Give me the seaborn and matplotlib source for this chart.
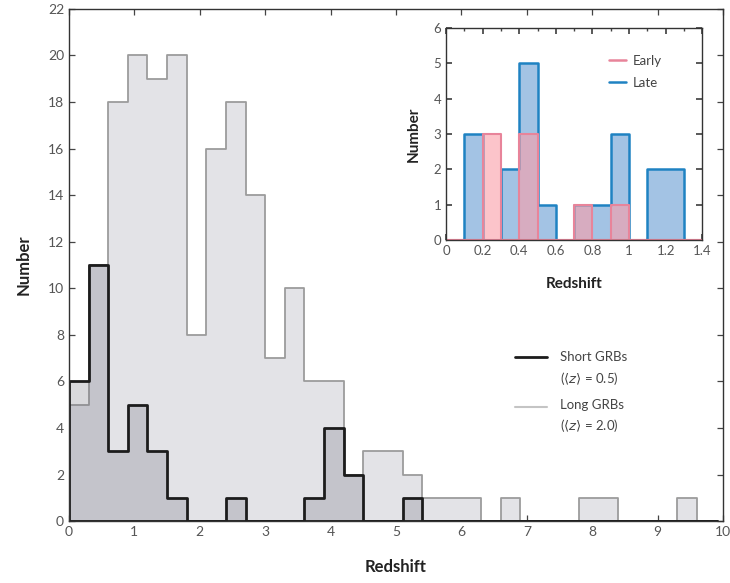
import numpy as np
import pandas as pd
import matplotlib
matplotlib.use("Agg")
import matplotlib.pyplot as plt
from matplotlib.lines import Line2D
import seaborn as sns

# ---- main panel: GRB redshift histogram, bins of width 0.3 ----
main_edges = [round(i * 0.3, 1) for i in range(34)]
long_counts = [5, 11, 18, 20, 19, 20, 8, 16, 18, 14, 7, 10, 6, 6, 2, 3, 3,
               2, 1, 1, 1, 0, 1, 0, 0, 0, 1, 1, 0, 0, 0, 1, 0]
short_counts = [6, 11, 3, 5, 3, 1, 0, 0, 1, 0, 0, 0, 1, 4, 2, 0, 0,
                1, 0, 0, 0, 0, 0, 0, 0, 0, 0, 0, 0, 0, 0, 0, 0]
main_xticks = list(range(0, 11))
main_yticks = list(range(0, 23, 2))
main_legend = ["Short GRBs", r"($\langle z\rangle$ = 0.5)",
               "Long GRBs", r"($\langle z\rangle$ = 2.0)"]

# ---- inset: short GRBs split by host type, bins of width 0.1 ----
inset_edges = [round(i * 0.1, 1) for i in range(15)]
late_counts = [0, 3, 0, 2, 5, 1, 0, 1, 1, 3, 0, 2, 2, 0]
early_counts = [0, 0, 3, 0, 3, 0, 0, 1, 0, 1, 0, 0, 0, 0]
inset_xticks = [0, 0.2, 0.4, 0.6, 0.8, 1.0, 1.2, 1.4]
inset_xticklabels = ["0", "0.2", "0.4", "0.6", "0.8", "1", "1.2", "1.4"]
inset_yticks = list(range(0, 7))

sns.set_theme(style="ticks")
plt.rcParams["font.family"] = ["Lato", "DejaVu Sans"]
plt.rcParams["mathtext.fontset"] = "dejavusans"

main_df = pd.DataFrame({
    "z": [e + 0.15 for e in main_edges[:-1]],
    "long": long_counts,
    "short": short_counts,
})
inset_df = pd.DataFrame({
    "z": [e + 0.05 for e in inset_edges[:-1]],
    "late": late_counts,
    "early": early_counts,
})

fig = plt.figure(figsize=(7.3, 5.83), dpi=100)
ax = fig.add_axes([0.0945, 0.106, 0.896, 0.879])

sns.histplot(data=main_df, x="z", weights="long", bins=main_edges,
             element="step", fill=True, facecolor="#e3e3e7",
             edgecolor="#9c9c9c", linewidth=1.3, ax=ax)
sns.histplot(data=main_df, x="z", weights="short", bins=main_edges,
             element="step", fill=True, facecolor=(0.45, 0.45, 0.5, 0.27),
             edgecolor="#1c1c1c", linewidth=2.0, ax=ax)

ax.set_xlim(0, 10)
ax.set_ylim(0, 22)
ax.set_xticks(main_xticks)
ax.set_yticks(main_yticks)
ax.tick_params(direction="in", top=True, right=True, length=4, width=0.9,
               labelsize=10, labelcolor="#555555", color="#444444")
for s in ax.spines.values():
    s.set_color("#333333")
    s.set_linewidth(1.0)
ax.set_xlabel("Redshift", fontsize=12, fontweight="bold", color="#222222", labelpad=15)
ax.set_ylabel("Number", fontsize=12, fontweight="bold", color="#222222", labelpad=12)

# legend for the main panel
ax.add_line(Line2D([0.682, 0.731], [0.320, 0.320], transform=ax.transAxes,
                   color="#1c1c1c", linewidth=2.0))
ax.add_line(Line2D([0.682, 0.731], [0.223, 0.223], transform=ax.transAxes,
                   color="#c4c4c4", linewidth=1.5))
for txt, yy in zip(main_legend, [0.320, 0.279, 0.227, 0.186]):
    ax.text(0.751, yy, txt, transform=ax.transAxes, fontsize=9.5,
            color="#444444", va="center", ha="left")

# ---- inset ----
axin = fig.add_axes([0.611, 0.588, 0.351, 0.364])
axin.set_facecolor("white")
sns.histplot(data=inset_df, x="z", weights="late", bins=inset_edges,
             element="step", fill=True, facecolor="#a3c3e4",
             edgecolor="#1f82c2", linewidth=1.8, ax=axin)
sns.histplot(data=inset_df, x="z", weights="early", bins=inset_edges,
             element="step", fill=True, facecolor=(0.98, 0.62, 0.66, 0.6),
             edgecolor="#e8849a", linewidth=1.5, ax=axin)
axin.set_xlim(0, 1.4)
axin.set_ylim(0, 6)
axin.set_xticks(inset_xticks)
axin.set_xticklabels(inset_xticklabels)
axin.set_yticks(inset_yticks)
axin.set_xticks([round(i * 0.1, 1) for i in range(1, 14, 2)], minor=True)
axin.tick_params(which="both", direction="in", top=True, right=True,
                 labelsize=9.5, labelcolor="#555555", color="#444444")
axin.tick_params(which="major", length=4)
axin.tick_params(which="minor", length=2.5)
for s in axin.spines.values():
    s.set_color("#333333")
    s.set_linewidth(1.0)
axin.set_xlabel("Redshift", fontsize=11, fontweight="bold", color="#222222", labelpad=14)
axin.set_ylabel("Number", fontsize=11, fontweight="bold", color="#222222", labelpad=9)

handles = [Line2D([], [], color="#e8849a", linewidth=1.8),
           Line2D([], [], color="#1f82c2", linewidth=1.8)]
axin.legend(handles, ["Early", "Late"], loc="upper right", frameon=False,
            fontsize=9.5, handlelength=1.3, handletextpad=0.5, labelspacing=0.75,
            labelcolor="#444444", bbox_to_anchor=(0.89, 0.93))

fig.savefig("out.png", dpi=100, facecolor="white")
